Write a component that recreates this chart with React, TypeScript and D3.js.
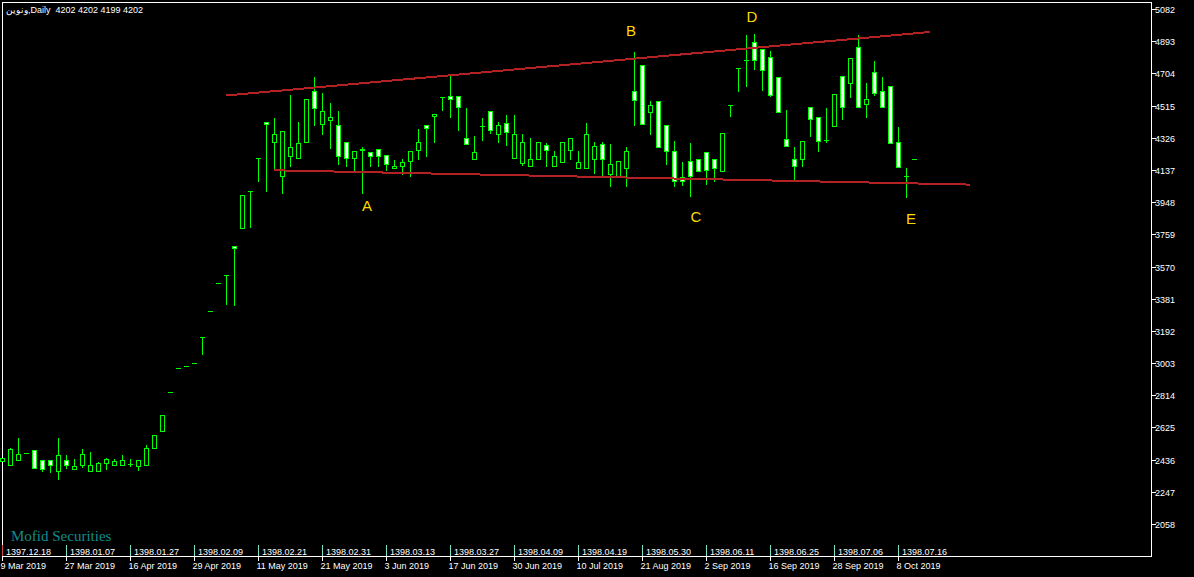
import React from 'react';
import * as d3 from 'd3';

const W = 1194;
const H = 577;

// Daily OHLC, one entry per trading session, oldest first
const opens = [
  2420, 2400, 2430, 2473, 2493, 2432, 2432, 2365, 2432, 2377,
  2400, 2365, 2365, 2412, 2400, 2400, 2408, 2395, 2400, 2500,
  2600, 2831, 2972, 2984, 3002, 3154, 3307, 3471, 3518, 3689,
  3792, 4012, 4205, 4419, 4297, 4097, 4215, 4200, 4297, 4599,
  4399, 4426, 4399, 4299, 4200, 4258, 4241, 4258, 4223, 4144,
  4156, 4182, 4247, 4399, 4446, 4564, 4570, 4570, 4323, 4197,
  4395, 4483, 4344, 4411, 4203, 4174, 4156, 4197, 4282, 4156,
  4180, 4247, 4144, 4144, 4197, 4288, 4109, 4097, 4144, 4599,
  4752, 4470, 4540, 4399, 4247, 4097, 4188, 4200, 4241, 4200,
  4127, 4517, 4734, 4783, 4887, 4846, 4799, 4681, 4317, 4200,
  4197, 4505, 4446, 4315, 4388, 4687, 4640, 4857, 4517, 4711,
  4599, 4628, 4299, 4100, 4202,
];
const highs = [
  2444, 2504, 2563, 2473, 2493, 2432, 2432, 2563, 2463, 2440,
  2499, 2481, 2422, 2444, 2440, 2463, 2440, 2434, 2522, 2581,
  2698, 2831, 2972, 2984, 3002, 3154, 3307, 3471, 3518, 3689,
  3990, 4012, 4205, 4419, 4442, 4364, 4577, 4419, 4552, 4681,
  4589, 4530, 4481, 4299, 4247, 4270, 4241, 4258, 4223, 4196,
  4200, 4247, 4376, 4399, 4464, 4564, 4689, 4570, 4501, 4336,
  4442, 4483, 4419, 4460, 4460, 4348, 4325, 4299, 4294, 4248,
  4299, 4323, 4248, 4413, 4299, 4299, 4289, 4188, 4272, 4830,
  4752, 4542, 4540, 4399, 4307, 4182, 4296, 4200, 4241, 4200,
  4352, 4517, 4734, 4930, 4935, 4846, 4834, 4681, 4489, 4272,
  4305, 4505, 4446, 4501, 4581, 4687, 4793, 4930, 4646, 4777,
  4681, 4628, 4389, 4147, 4202,
];
const lows = [
  2420, 2400, 2430, 2473, 2379, 2363, 2359, 2316, 2381, 2377,
  2387, 2365, 2365, 2375, 2400, 2400, 2393, 2369, 2400, 2500,
  2600, 2831, 2972, 2984, 3002, 3052, 3307, 3471, 3344, 3338,
  3792, 3798, 4068, 4009, 4137, 3996, 4153, 4200, 4297, 4395,
  4344, 4262, 4166, 4156, 4117, 3996, 4153, 4156, 4133, 4144,
  4107, 4097, 4196, 4215, 4297, 4485, 4444, 4368, 4282, 4197,
  4309, 4346, 4297, 4280, 4200, 4160, 4156, 4197, 4156, 4156,
  4180, 4196, 4144, 4144, 4115, 4097, 4039, 4097, 4039, 4397,
  4399, 4344, 4264, 4168, 4039, 4045, 3980, 4127, 4049, 4068,
  4127, 4450, 4597, 4626, 4724, 4602, 4567, 4473, 4274, 4078,
  4156, 4332, 4244, 4297, 4388, 4430, 4561, 4499, 4444, 4571,
  4499, 4288, 4147, 3974, 4199,
];
const closes = [
  2444, 2498, 2469, 2473, 2379, 2373, 2400, 2463, 2400, 2397,
  2469, 2405, 2416, 2440, 2428, 2434, 2410, 2434, 2504, 2581,
  2698, 2831, 2972, 2984, 3002, 3154, 3307, 3471, 3518, 3675,
  3990, 4012, 4205, 4399, 4348, 4364, 4270, 4294, 4552, 4497,
  4481, 4446, 4215, 4200, 4247, 4247, 4211, 4215, 4168, 4159,
  4182, 4247, 4299, 4376, 4464, 4564, 4546, 4499, 4282, 4243,
  4395, 4368, 4399, 4356, 4346, 4299, 4200, 4299, 4247, 4217,
  4299, 4323, 4182, 4346, 4276, 4197, 4170, 4188, 4247, 4544,
  4399, 4517, 4264, 4241, 4066, 4068, 4097, 4127, 4133, 4141,
  4352, 4517, 4734, 4783, 4779, 4716, 4573, 4473, 4274, 4156,
  4305, 4429, 4303, 4315, 4581, 4499, 4793, 4499, 4552, 4581,
  4499, 4288, 4147, 4100, 4202,
];

// Right-hand price scale
const priceTicks = [
  5082, 4893, 4704, 4515, 4326, 4137, 3948, 3759, 3570,
  3381, 3192, 3003, 2814, 2625, 2436, 2247, 2058,
];

// Time scale: a label every 8 sessions
const tickBars = [0, 8, 16, 24, 32, 40, 48, 56, 64, 72, 80, 88, 96, 104, 112];
const shamsiLabels = [
  '1397.12.18', '1398.01.07', '1398.01.27', '1398.02.09', '1398.02.21',
  '1398.02.31', '1398.03.13', '1398.03.27', '1398.04.09', '1398.04.19',
  '1398.05.30', '1398.06.11', '1398.06.25', '1398.07.06', '1398.07.16',
];
const gregorianLabels = [
  '9 Mar 2019', '27 Mar 2019', '16 Apr 2019', '29 Apr 2019', '11 May 2019',
  '21 May 2019', '3 Jun 2019', '17 Jun 2019', '30 Jun 2019', '10 Jul 2019',
  '21 Aug 2019', '2 Sep 2019', '16 Sep 2019', '28 Sep 2019', '8 Oct 2019',
];

// Channel trendlines (bar index, price)
const upperLineBars = [27.94, 115.94];
const upperLinePrices = [4574, 4947];
const lowerLineBars = [33.94, 120.94];
const lowerLinePrices = [4135, 4051];

// Wave point annotations
const waveNames = ['A', 'B', 'C', 'D', 'E'];
const waveBars = [45.56, 78.56, 86.69, 93.69, 113.56];
const wavePrices = [3925, 4953, 3861, 5037, 3849];

const LIME = '#00ff00';
const AXIS_FONT = '"Liberation Sans", Arial, sans-serif';

export default function App() {
  const xScale = d3.scaleLinear().domain([0, 114]).range([2.5, 914.5]);
  const yScale = d3.scaleLinear().domain([2058, 5082]).range([524, 9]);
  const row = (p: number) => Math.round(yScale(p));

  const lineGen = d3
    .line<[number, number]>()
    .x((d) => xScale(d[0]))
    .y((d) => yScale(d[1]));

  const upperPath = lineGen(upperLineBars.map((b, i) => [b, upperLinePrices[i]] as [number, number]));
  const lowerPath = lineGen(lowerLineBars.map((b, i) => [b, lowerLinePrices[i]] as [number, number]));

  const left = 2;
  const right = 1151;
  const top = 2;
  const bottom = 556;

  const candles = opens.map((o, i) => {
    const h = highs[i];
    const l = lows[i];
    const c = closes[i];
    const col = Math.round(xScale(i) - 0.5);
    const hiRow = row(h);
    const loRow = row(l);
    const bodyTop = row(Math.max(o, c));
    const bodyBot = row(Math.min(o, c));
    const bodyH = Math.max(1, bodyBot - bodyTop);
    return (
      <g key={i}>
        <rect x={col} y={hiRow} width={1} height={Math.max(1, loRow - hiRow)} fill={LIME} />
        <rect x={col - 2} y={bodyTop} width={5} height={bodyH} fill={LIME} />
        {bodyH > 2 && (
          <rect
            x={col - 1}
            y={bodyTop + 1}
            width={3}
            height={bodyH - 2}
            fill={c > o ? '#000000' : '#ffffff'}
          />
        )}
      </g>
    );
  });

  return (
    <svg
      width={W}
      height={H}
      style={{ position: 'absolute', left: 0, top: 0, display: 'block' }}
      shapeRendering="crispEdges"
    >
      <rect x={0} y={0} width={W} height={H} fill="#000000" />

      {/* chart frame */}
      <rect x={left} y={top} width={right - left + 1} height={1} fill="#ffffff" />
      <rect x={left} y={bottom} width={right - left + 1} height={1} fill="#ffffff" />
      <rect x={left} y={top} width={1} height={bottom - top + 1} fill="#ffffff" />
      <rect x={right} y={top} width={1} height={bottom - top + 1} fill="#ffffff" />

      {/* title */}
      <text
        x={6}
        y={13}
        fill="#ffffff"
        fontSize={9}
        fontFamily={AXIS_FONT}
        style={{ whiteSpace: 'pre' }}
        shapeRendering="auto"
      >
        {'ونوین,Daily  4202 4202 4199 4202'}
      </text>

      {/* price scale */}
      {priceTicks.map((p) => (
        <g key={p}>
          <rect x={right + 1} y={row(p)} width={4} height={1} fill="#ffffff" />
          <text x={right + 4} y={row(p) + 4} fill="#ffffff" fontSize={9} fontFamily={AXIS_FONT}>
            {p}
          </text>
        </g>
      ))}

      {/* time scale */}
      {tickBars.map((b, k) => {
        const col = Math.round(xScale(b) - 0.5);
        return (
          <g key={b}>
            <rect
              x={col}
              y={545}
              width={1}
              height={bottom - 545}
              fill={k === 0 ? '#d04848' : '#7fe0c8'}
            />
            <text x={col + 4} y={555} fill="#ffffff" fontSize={9} fontFamily={AXIS_FONT}>
              {shamsiLabels[k]}
            </text>
            <rect x={col} y={bottom + 1} width={1} height={4} fill="#ffffff" />
            <text x={col - 1.5} y={569} fill="#ffffff" fontSize={9} fontFamily={AXIS_FONT}>
              {gregorianLabels[k]}
            </text>
          </g>
        );
      })}

      {/* candles */}
      {candles}

      {/* channel lines */}
      <path d={upperPath ?? ''} fill="none" stroke="#b22222" strokeWidth={2} />
      <path d={lowerPath ?? ''} fill="none" stroke="#b22222" strokeWidth={2} />

      {/* wave labels */}
      {waveNames.map((n, i) => (
        <text
          key={n}
          x={xScale(waveBars[i])}
          y={yScale(wavePrices[i])}
          dy="0.36em"
          textAnchor="middle"
          fill="#ffd700"
          fontSize={15}
          fontFamily={AXIS_FONT}
        >
          {n}
        </text>
      ))}

      {/* watermark */}
      <text x={11} y={541} fill="#118c8c" fontSize={15} fontFamily='"Liberation Serif", "Times New Roman", serif'>
        Mofid Securities
      </text>
    </svg>
  );
}
